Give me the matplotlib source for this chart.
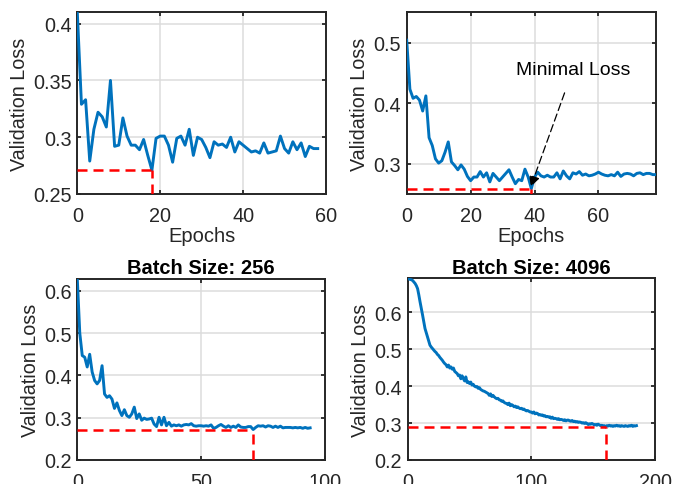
import matplotlib
matplotlib.use('Agg')
import matplotlib.pyplot as plt
from matplotlib.ticker import FuncFormatter

plt.rcParams['font.family'] = ['Liberation Sans', 'DejaVu Sans']

# validation loss per epoch
loss_a = [0.410, 0.329, 0.333, 0.279, 0.307, 0.322, 0.318, 0.309, 0.350, 0.292,
          0.293, 0.317, 0.301, 0.293, 0.293, 0.289, 0.298, 0.284, 0.271, 0.299,
          0.301, 0.301, 0.293, 0.278, 0.299, 0.301, 0.293, 0.307, 0.284, 0.300,
          0.298, 0.291, 0.282, 0.296, 0.293, 0.294, 0.291, 0.300, 0.287, 0.296,
          0.293, 0.290, 0.287, 0.288, 0.286, 0.295, 0.286, 0.287, 0.288, 0.301,
          0.290, 0.286, 0.296, 0.289, 0.295, 0.283, 0.292, 0.290, 0.290]

loss_b = [0.504, 0.423, 0.408, 0.411, 0.405, 0.387, 0.412, 0.343, 0.330, 0.308,
          0.301, 0.305, 0.319, 0.336, 0.303, 0.297, 0.290, 0.298, 0.291, 0.279,
          0.272, 0.278, 0.278, 0.287, 0.278, 0.285, 0.270, 0.284, 0.278, 0.272,
          0.278, 0.284, 0.290, 0.278, 0.267, 0.274, 0.272, 0.291, 0.278, 0.259,
          0.278, 0.286, 0.280, 0.278, 0.281, 0.278, 0.278, 0.285, 0.275, 0.288,
          0.280, 0.275, 0.285, 0.283, 0.287, 0.281, 0.283, 0.280, 0.281, 0.283,
          0.286, 0.283, 0.281, 0.280, 0.282, 0.280, 0.286, 0.279, 0.283, 0.284,
          0.283, 0.280, 0.284, 0.285, 0.282, 0.284, 0.284, 0.282, 0.282]

loss_c = [0.628, 0.500, 0.447, 0.443, 0.420, 0.450, 0.408, 0.388, 0.380, 0.388,
          0.423, 0.356, 0.348, 0.352, 0.344, 0.322, 0.335, 0.317, 0.305, 0.319,
          0.305, 0.301, 0.309, 0.325, 0.298, 0.309, 0.294, 0.299, 0.296, 0.297,
          0.299, 0.285, 0.279, 0.301, 0.283, 0.301, 0.281, 0.289, 0.280, 0.283,
          0.281, 0.283, 0.280, 0.283, 0.284, 0.283, 0.286, 0.281, 0.280, 0.281,
          0.281, 0.280, 0.281, 0.280, 0.283, 0.275, 0.277, 0.281, 0.284, 0.280,
          0.277, 0.281, 0.277, 0.280, 0.277, 0.283, 0.278, 0.277, 0.277, 0.279,
          0.279, 0.272, 0.277, 0.281, 0.280, 0.281, 0.278, 0.281, 0.280, 0.277,
          0.280, 0.277, 0.280, 0.276, 0.277, 0.277, 0.277, 0.276, 0.277, 0.276,
          0.277, 0.275, 0.277, 0.275, 0.276]

loss_d = [0.691, 0.690, 0.689, 0.688, 0.686, 0.682, 0.678, 0.672, 0.664, 0.647,
          0.628, 0.611, 0.593, 0.574, 0.556, 0.545, 0.534, 0.522, 0.511, 0.506,
          0.502, 0.498, 0.494, 0.491, 0.486, 0.483, 0.478, 0.474, 0.470, 0.465,
          0.461, 0.458, 0.452, 0.457, 0.449, 0.452, 0.446, 0.449, 0.440, 0.437,
          0.434, 0.428, 0.430, 0.420, 0.428, 0.421, 0.414, 0.425, 0.410, 0.412,
          0.407, 0.411, 0.403, 0.405, 0.400, 0.398, 0.399, 0.394, 0.396, 0.391,
          0.389, 0.387, 0.386, 0.384, 0.382, 0.380, 0.375, 0.379, 0.372, 0.375,
          0.371, 0.368, 0.366, 0.367, 0.363, 0.362, 0.359, 0.360, 0.356, 0.354,
          0.353, 0.350, 0.354, 0.347, 0.350, 0.348, 0.344, 0.346, 0.342, 0.344,
          0.341, 0.339, 0.340, 0.337, 0.338, 0.335, 0.333, 0.334, 0.332, 0.330,
          0.330, 0.327, 0.330, 0.325, 0.327, 0.326, 0.322, 0.323, 0.321, 0.322,
          0.319, 0.320, 0.317, 0.318, 0.316, 0.317, 0.313, 0.316, 0.312, 0.313,
          0.312, 0.310, 0.312, 0.309, 0.310, 0.309, 0.307, 0.309, 0.306, 0.308,
          0.308, 0.306, 0.305, 0.307, 0.304, 0.305, 0.303, 0.304, 0.302, 0.303,
          0.302, 0.300, 0.301, 0.299, 0.301, 0.299, 0.296, 0.298, 0.297, 0.299,
          0.297, 0.295, 0.296, 0.294, 0.297, 0.295, 0.293, 0.294, 0.292, 0.293,
          0.290, 0.293, 0.292, 0.294, 0.292, 0.293, 0.291, 0.293, 0.292, 0.294,
          0.292, 0.293, 0.291, 0.293, 0.292, 0.291, 0.293, 0.292, 0.291, 0.293,
          0.292, 0.294, 0.291, 0.293, 0.292, 0.293]

titles = [None, None, 'Batch Size: 256', 'Batch Size: 4096']
xlims = [(0, 60), (0, 78), (0, 100), (0, 200)]
ylims = [(0.25, 0.41), (0.25, 0.55), (0.2, 0.628), (0.2, 0.692)]
xticks = [[0, 20, 40, 60], [0, 20, 40, 60], [0, 50, 100], [0, 100, 200]]
yticks = [[0.25, 0.3, 0.35, 0.4], [0.3, 0.4, 0.5], [0.2, 0.3, 0.4, 0.5, 0.6],
          [0.2, 0.3, 0.4, 0.5, 0.6]]

W, H = 673, 485
boxes = [(77.3, 13.3, 326, 195), (406.7, 13.3, 656, 195),
         (77.3, 280, 325, 461), (407.7, 279.3, 655, 461)]

fig = plt.figure(figsize=(W / 100, H / 100), dpi=100)
dark = '#262626'
fmt = FuncFormatter(lambda v, p: ('%g' % round(v, 4)))

for i, loss in enumerate([loss_a, loss_b, loss_c, loss_d]):
    x0, y0, x1, y1 = boxes[i]
    ax = fig.add_axes([x0 / W, 1 - y1 / H, (x1 - x0) / W, (y1 - y0) / H])
    epochs = list(range(len(loss)))
    ax.plot(epochs, loss, color='#0072BD', lw=2.1, zorder=3)

    best = min(range(len(loss)), key=lambda k: loss[k])
    ax.plot([0, best], [loss[best], loss[best]], color='#FF0000', lw=1.8,
            ls=(0, (4, 2.4)), zorder=4)
    ax.plot([best, best], [ylims[i][0], loss[best]], color='#FF0000', lw=1.8,
            ls=(0, (4, 2.4)), zorder=4)

    ax.set_xlim(xlims[i])
    ax.set_ylim(ylims[i])
    ax.set_xticks(xticks[i])
    ax.set_yticks(yticks[i])
    ax.yaxis.set_major_formatter(fmt)
    ax.grid(True, color='#dcdcdc', lw=1.1)
    ax.set_axisbelow(True)
    ax.tick_params(direction='in', top=True, right=True, length=3, width=1.3,
                   labelsize=14.3, colors=dark)
    ax.tick_params(axis='x', pad=9)
    ax.tick_params(axis='y', pad=4)
    for s in ax.spines.values():
        s.set_linewidth(1.4)
        s.set_color(dark)
    ax.set_ylabel('Validation Loss', fontsize=14.2, color=dark, labelpad=3)
    if i < 2:
        ax.set_xlabel('Epochs', fontsize=14.5, color=dark, labelpad=0)
    if titles[i]:
        ax.set_title(titles[i], fontsize=14.5, fontweight='bold', pad=4)

    if i == 1:
        ax.annotate('Minimal Loss', xy=(38.8, 0.262), xytext=(52, 0.455),
                    ha='center', va='center', fontsize=14, color='k',
                    arrowprops=dict(arrowstyle='-|>', color='k', lw=0.9,
                                    ls=(0, (6, 3)), mutation_scale=16,
                                    shrinkA=9, shrinkB=0))

fig.savefig('out.png', dpi=100)
